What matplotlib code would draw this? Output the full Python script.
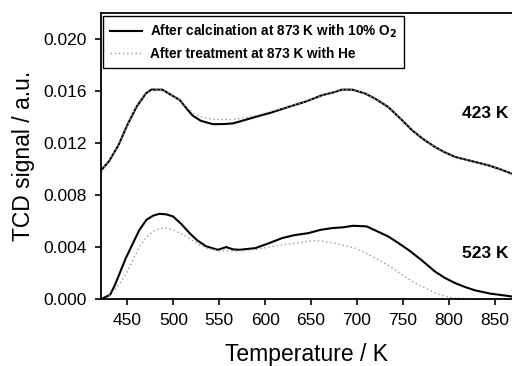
import matplotlib
matplotlib.use("Agg")
import matplotlib.pyplot as plt

plt.rcParams['font.family'] = ['Liberation Sans', 'DejaVu Sans']

# 423 K, after calcination (solid)
t_423_calc = [421.5, 430, 440, 450, 460, 470, 476, 481.5, 488, 495, 507, 515, 521, 530, 543, 555, 565, 575, 589.5,
              605, 625.7, 645, 662, 675, 683.7, 695, 709, 720, 734, 747, 760, 772, 785, 795, 807, 825, 843, 855, 868]
v_423_calc = [0.0099, 0.0106, 0.0118, 0.0134, 0.0148, 0.0158, 0.0161, 0.0161, 0.0161, 0.0158, 0.0153, 0.0146, 0.0141,
              0.0137, 0.01344, 0.01345, 0.0135, 0.0137, 0.0140,
              0.0143, 0.01477, 0.0152, 0.01567, 0.0159, 0.0161, 0.0161, 0.0158, 0.0154, 0.01477, 0.0139, 0.01298,
              0.0123, 0.01169, 0.0113, 0.01092, 0.0106, 0.01028, 0.0100, 0.00965]
# 423 K, after He treatment (dotted)
t_423_he = [421.5, 430, 440, 450, 460, 470, 476, 481.5, 488, 495, 507, 515, 521, 530, 543, 555, 565, 575, 589.5,
            605, 625.7, 645, 662, 675, 683.7, 695, 709, 720, 734, 747, 760, 772, 785, 795, 807, 825, 843, 855, 868]
v_423_he = [0.0099, 0.0106, 0.0118, 0.0134, 0.0149, 0.0158, 0.0160, 0.0161, 0.0161, 0.0158, 0.0153, 0.0147, 0.0143,
            0.0140, 0.0138, 0.0138, 0.0138, 0.0139, 0.0141,
            0.0144, 0.01477, 0.0152, 0.01567, 0.0159, 0.0161, 0.0161, 0.0158, 0.0154, 0.01477, 0.0139, 0.01298,
            0.0123, 0.01169, 0.0113, 0.01092, 0.0106, 0.01028, 0.0100, 0.00965]
# 523 K, after calcination (solid)
t_523_calc = [423.5, 431, 436, 441.6, 448, 456, 463, 470.7, 478, 485, 492, 499.6, 508, 517.7, 526, 535.9, 548.5,
              557.6, 565, 572, 589.5, 605, 618.5, 632, 647, 660, 673, 685, 696, 710.6, 722, 734, 745, 756, 770,
              785, 796, 806.9, 818, 828.6, 845, 858, 868]
v_523_calc = [0.00005, 0.0003, 0.0010, 0.00198, 0.0031, 0.00428, 0.0053, 0.00608, 0.0064, 0.00654, 0.0065, 0.00634,
              0.0058, 0.00505, 0.0045, 0.00403, 0.00377, 0.00398, 0.0038, 0.00377, 0.0039, 0.0043, 0.00467, 0.0049,
              0.00505, 0.0053, 0.00544, 0.0055, 0.00562, 0.00557, 0.0052, 0.0048, 0.0043, 0.00377, 0.0030,
              0.0021, 0.0016, 0.00121, 0.0009, 0.00065, 0.0004, 0.00028, 0.00018]
# 523 K, after He treatment (dotted)
t_523_he = [427, 435, 442, 449, 456, 463, 470, 478, 485, 492.4, 500, 514, 525, 536, 550, 565, 589, 605, 618.5,
            635, 654.7, 665, 676, 687, 698, 710, 720, 731, 741.7, 752, 763.5, 775, 785, 796, 806.9, 830, 868]
v_523_he = [0.0, 0.0006, 0.0012, 0.00198, 0.0030, 0.0040, 0.0047, 0.0052, 0.0054, 0.00544, 0.0053, 0.0048, 0.0043,
            0.0039, 0.0037, 0.00365, 0.00377, 0.0040, 0.00415, 0.0043, 0.00449, 0.0044, 0.00428, 0.0041, 0.0039,
            0.0035, 0.00313, 0.0027, 0.00223, 0.0017, 0.00121, 0.0008, 0.00044, 0.0002, 0.00005, 0.0, 0.0]

legend_labels = ['After calcination at 873 K with 10% O$_\\mathbf{2}$', 'After treatment at 873 K with He']
curve_labels = ['423 K', '523 K']
x_ticks = [450, 500, 550, 600, 650, 700, 750, 800, 850]
y_ticks = [0.000, 0.004, 0.008, 0.012, 0.016, 0.020]

fig = plt.figure(figsize=(5.12, 3.66), dpi=100)
ax = fig.add_axes([0.197, 0.183, 0.803, 0.7815])

l1, = ax.plot(t_423_calc, v_423_calc, color='black', lw=1.5)
l2, = ax.plot(t_423_he, v_423_he, color='#999999', lw=1.0, ls=(0, (1, 2)))
ax.plot(t_523_calc, v_523_calc, color='black', lw=1.5)
ax.plot(t_523_he, v_523_he, color='#999999', lw=1.0, ls=(0, (1, 2)))

ax.set_xlim(421, 869)
ax.set_ylim(-0.00002, 0.022)
ax.set_xticks(x_ticks)
ax.set_yticks(y_ticks)
ax.set_yticklabels([f'{v:.3f}' for v in y_ticks])
ax.tick_params(direction='out', length=4, width=1.2, labelsize=12.5, color='black', pad=6)
ax.spines['right'].set_visible(False)
for s in ['left', 'bottom', 'top']:
    ax.spines[s].set_linewidth(1.3)

ax.set_xlabel('Temperature / K', fontsize=16.5, labelpad=11)
ax.set_ylabel('TCD signal / a.u.', fontsize=16.5, labelpad=6)

ax.text(815, 0.01428, curve_labels[0], fontsize=12.5, fontweight='bold', va='center', ha='left')
ax.text(815, 0.00352, curve_labels[1], fontsize=12.5, fontweight='bold', va='center', ha='left')

leg = ax.legend([l1, l2], legend_labels, loc='upper left', bbox_to_anchor=(0.005, 0.99),
                borderaxespad=0, prop={'weight': 'bold', 'size': 9.8}, fancybox=False,
                edgecolor='black', framealpha=1, handlelength=2.4, handletextpad=0.55,
                borderpad=0.5, labelspacing=0.5)
leg.get_frame().set_linewidth(1.0)

fig.savefig('out.png', dpi=100)
